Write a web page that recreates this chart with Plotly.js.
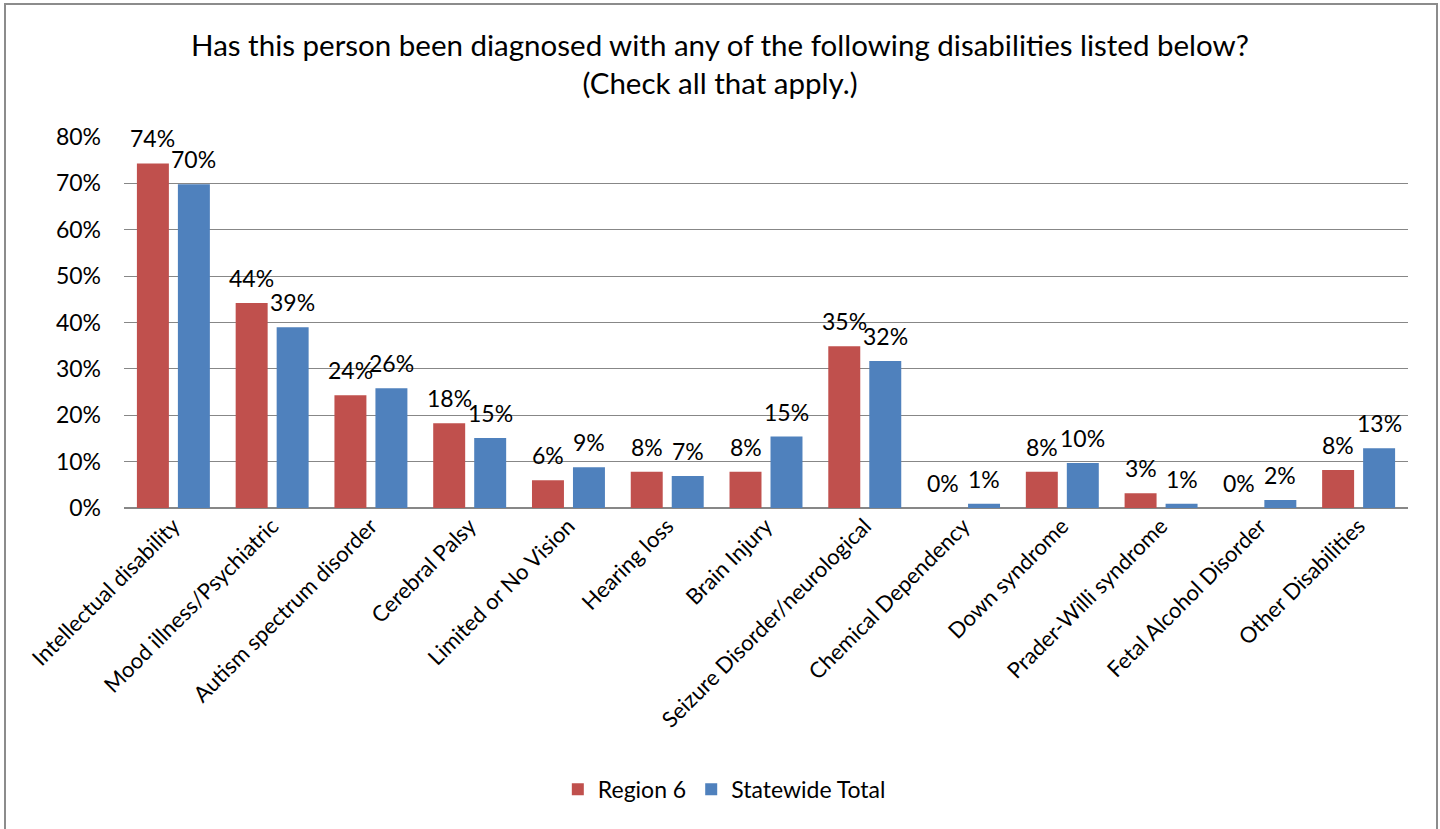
<!DOCTYPE html>
<html>
<head>
<meta charset="utf-8">
<script src="https://cdn.plot.ly/plotly-3.0.1.min.js"></script>
<style>
html,body{margin:0;padding:0;background:#fff;overflow:hidden;}
#wrap{position:relative;width:1440px;height:829px;}
#chart{width:1440px;height:829px;}
#frame{position:absolute;left:4px;top:3px;width:1430px;height:840px;border:2px solid #8c8c8c;pointer-events:none;}
</style>
</head>
<body>
<div id="wrap"><div id="chart"></div><div id="frame"></div></div>
<script>
const categories = ["Intellectual disability","Mood illness/Psychiatric","Autism spectrum disorder","Cerebral Palsy","Limited or No Vision","Hearing loss","Brain Injury","Seizure Disorder/neurological","Chemical Dependency","Down syndrome","Prader-Willi syndrome","Fetal Alcohol Disorder","Other Disabilities"];
const region6 = [0.743,0.442,0.243,0.183,0.060,0.078,0.078,0.349,0.0,0.078,0.032,0.0,0.082];
const statewide = [0.698,0.390,0.258,0.151,0.088,0.069,0.154,0.317,0.009,0.097,0.009,0.017,0.129];
const seriesNames = ["Region 6","Statewide Total"];
const yTicks = [0,0.1,0.2,0.3,0.4,0.5,0.6,0.7,0.8];
const yTickLabels = ["0%","10%","20%","30%","40%","50%","60%","70%","80%"];

const FONT = "Lato, 'Noto Sans', sans-serif";
const common = {type:'bar', x:categories, hoverinfo:'none'};
const data = [
  Object.assign({}, common, {name:seriesNames[0], y:region6, marker:{color:'#C0504D'}}),
  Object.assign({}, common, {name:seriesNames[1], y:statewide, marker:{color:'#4F81BD'}})
];
const pct = v => Math.round(v*100) + '%';
const annotations = [];
[region6, statewide].forEach((arr, si) => {
  arr.forEach((v, i) => {
    annotations.push({x:categories[i], y:v, xref:'x', yref:'y', text:pct(v), showarrow:false,
      xanchor:'center', yanchor:'bottom', xshift:(si===0?-20.5:20.5), yshift:9,
      font:{family:FONT,size:23,color:'#000'}});
  });
});
const layout = {
  width:1440, height:829,
  margin:{l:124, r:32, t:137, b:321},
  paper_bgcolor:'#fff', plot_bgcolor:'#fff',
  font:{family:FONT, color:'#000'},
  title:{text:'Has this person been diagnosed with any of the following disabilities listed below?<br>(Check all that apply.)',
    font:{family:FONT,size:29.5,color:'#000'}, x:0.5, xanchor:'center', yref:'container', y:0.933, yanchor:'middle'},
  bargap:0.17, bargroupgap:0.22, barmode:'group',
  xaxis:{tickangle:-45, tickfont:{family:FONT,size:22,color:'#000'}, showline:false, ticks:'', showgrid:false, automargin:false},
  yaxis:{range:[0,0.8], tickvals:yTicks, ticktext:yTickLabels, tickfont:{family:FONT,size:23,color:'#000'},
    showgrid:true, gridcolor:'#878787', gridwidth:1, zeroline:true, zerolinecolor:'#878787', zerolinewidth:1.5,
    showline:false, ticks:'', ticklen:0, ticklabelstandoff:22, automargin:false},
  showlegend:true,
  legend:{orientation:'h', xref:'container', x:0.503, xanchor:'center', yref:'container', y:0.048, yanchor:'middle',
    font:{family:FONT,size:23,color:'#000'}, itemwidth:30, traceorder:'normal'},
  annotations:annotations
};
Plotly.newPlot('chart', data, layout, {staticPlot:true, displayModeBar:false});
</script>
</body>
</html>
